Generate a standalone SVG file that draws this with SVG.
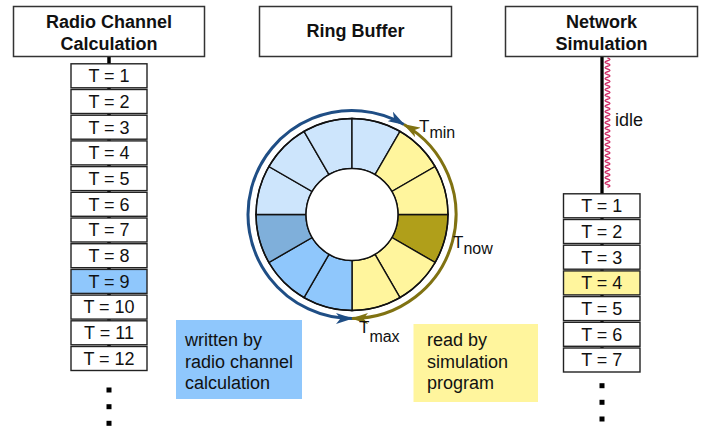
<svg xmlns="http://www.w3.org/2000/svg" width="709" height="431" viewBox="0 0 709 431">
<style>
text{font-family:"Liberation Sans",Arial,sans-serif;fill:#111;}
.hdr{fill:#fff;stroke:#333;stroke-width:1.5;}
.hdrt{font-size:18px;font-weight:bold;text-anchor:middle;}
.cell{fill:#fff;stroke:#222;stroke-width:1.4;}
.ct{font-size:18px;text-anchor:middle;}
.lbl{font-size:18px;}
.seg{stroke:#111;stroke-width:1.4;}
.lb{fill:#cde5fc;}.yl{fill:#fff59d;}.ol{fill:#b09f1a;}.mb{fill:#8fc7fc;}.sb{fill:#7fafda;}
.T{font-size:17px;}.sub{font-size:16px;}
.dot{fill:#000;}
</style>
<defs>
<marker id="ahB" markerUnits="userSpaceOnUse" markerWidth="17" markerHeight="11" refX="16" refY="5.5" orient="auto-start-reverse" viewBox="0 0 17 11">
<path d="M0,0 L17,5.5 L0,11 L4.5,5.5 Z" fill="#1f4e85"/>
</marker>
<marker id="ahO" markerUnits="userSpaceOnUse" markerWidth="17" markerHeight="11" refX="16" refY="5.5" orient="auto-start-reverse" viewBox="0 0 17 11">
<path d="M0,0 L17,5.5 L0,11 L4.5,5.5 Z" fill="#807212"/>
</marker>
</defs>

<g id="connectors">
<line x1="109" y1="57" x2="109" y2="371" stroke="#000" stroke-width="3.5"/>
<line x1="602" y1="56" x2="602" y2="372" stroke="#000" stroke-width="3.3"/>
<path d="M607.5,58 q5,1.375 0,2.75 t0,2.75 t0,2.75 t0,2.75 t0,2.75 t0,2.75 t0,2.75 t0,2.75 t0,2.75 t0,2.75 t0,2.75 t0,2.75 t0,2.75 t0,2.75 t0,2.75 t0,2.75 t0,2.75 t0,2.75 t0,2.75 t0,2.75 t0,2.75 t0,2.75 t0,2.75 t0,2.75 t0,2.75 t0,2.75 t0,2.75 t0,2.75 t0,2.75 t0,2.75 t0,2.75 t0,2.75 t0,2.75 t0,2.75 t0,2.75 t0,2.75 t0,2.75 t0,2.75 t0,2.75 t0,2.75 t0,2.75 t0,2.75 t0,2.75 t0,2.75 t0,2.75 t0,2.75 t0,2.75" fill="none" stroke="#d0306a" stroke-width="1.3"/>
<text class="lbl" x="615" y="126">idle</text>
<path d="M352,318.5 A104,104 0 1 1 404,124.43" fill="none" stroke="#1f4e85" stroke-width="3" marker-start="url(#ahB)" marker-end="url(#ahB)"/>
<path d="M404,124.43 A104,104 0 0 1 352,318.5" fill="none" stroke="#807212" stroke-width="3" marker-start="url(#ahO)" marker-end="url(#ahO)"/>
</g>

<g id="node-radio">
<rect class="hdr" x="13.5" y="6.5" width="191" height="50"/>
<text class="hdrt" x="109" y="28">Radio Channel</text>
<text class="hdrt" x="109" y="50">Calculation</text>
</g>

<g id="node-ring-title">
<rect class="hdr" x="259.5" y="6.5" width="192" height="50"/>
<text class="hdrt" x="355.5" y="37">Ring Buffer</text>
</g>

<g id="node-network">
<rect class="hdr" x="505.5" y="6.5" width="192" height="50"/>
<text class="hdrt" x="601.5" y="28">Network</text>
<text class="hdrt" x="601.5" y="50">Simulation</text>
</g>

<g id="radio-cells">
<g id="r1"><rect class="cell" x="71" y="63.8" width="76" height="24"/><text class="ct" x="109" y="82.1">T = 1</text></g>
<g id="r2"><rect class="cell" x="71" y="89.5" width="76" height="24"/><text class="ct" x="109" y="107.8">T = 2</text></g>
<g id="r3"><rect class="cell" x="71" y="115.2" width="76" height="24"/><text class="ct" x="109" y="133.5">T = 3</text></g>
<g id="r4"><rect class="cell" x="71" y="140.9" width="76" height="24"/><text class="ct" x="109" y="159.2">T = 4</text></g>
<g id="r5"><rect class="cell" x="71" y="166.6" width="76" height="24"/><text class="ct" x="109" y="184.9">T = 5</text></g>
<g id="r6"><rect class="cell" x="71" y="192.3" width="76" height="24"/><text class="ct" x="109" y="210.6">T = 6</text></g>
<g id="r7"><rect class="cell" x="71" y="218" width="76" height="24"/><text class="ct" x="109" y="236.3">T = 7</text></g>
<g id="r8"><rect class="cell" x="71" y="243.7" width="76" height="24"/><text class="ct" x="109" y="262">T = 8</text></g>
<g id="r9"><rect class="cell" x="71" y="269.4" width="76" height="24" style="fill:#8fc7fc"/><text class="ct" x="109" y="287.7">T = 9</text></g>
<g id="r10"><rect class="cell" x="71" y="295.1" width="76" height="24"/><text class="ct" x="109" y="313.4">T = 10</text></g>
<g id="r11"><rect class="cell" x="71" y="320.8" width="76" height="24"/><text class="ct" x="109" y="339.1">T = 11</text></g>
<g id="r12"><rect class="cell" x="71" y="346.5" width="76" height="24"/><text class="ct" x="109" y="364.8">T = 12</text></g>
<rect class="dot" x="106.5" y="387.5" width="5" height="5"/>
<rect class="dot" x="106.5" y="404.2" width="5" height="5"/>
<rect class="dot" x="106.5" y="420.8" width="5" height="5"/>
</g>

<g id="network-cells">
<g id="n1"><rect class="cell" x="563.5" y="193.8" width="76.5" height="24"/><text class="ct" x="601.75" y="212.1">T = 1</text></g>
<g id="n2"><rect class="cell" x="563.5" y="219.5" width="76.5" height="24"/><text class="ct" x="601.75" y="237.8">T = 2</text></g>
<g id="n3"><rect class="cell" x="563.5" y="245.2" width="76.5" height="24"/><text class="ct" x="601.75" y="263.5">T = 3</text></g>
<g id="n4"><rect class="cell" x="563.5" y="270.9" width="76.5" height="24" style="fill:#fff59d"/><text class="ct" x="601.75" y="289.2">T = 4</text></g>
<g id="n5"><rect class="cell" x="563.5" y="296.6" width="76.5" height="24"/><text class="ct" x="601.75" y="314.9">T = 5</text></g>
<g id="n6"><rect class="cell" x="563.5" y="322.3" width="76.5" height="24"/><text class="ct" x="601.75" y="340.6">T = 6</text></g>
<g id="n7"><rect class="cell" x="563.5" y="348" width="76.5" height="24"/><text class="ct" x="601.75" y="366.3">T = 7</text></g>
<rect class="dot" x="599.5" y="383.2" width="5" height="5"/>
<rect class="dot" x="599.5" y="399.8" width="5" height="5"/>
<rect class="dot" x="599.5" y="416.5" width="5" height="5"/>
</g>

<g id="node-ring">
<path class="seg ol" d="M448,214.5 A96,96 0 0 1 435.14,262.5 L391.84,237.5 A46,46 0 0 0 398,214.5 Z"/>
<path class="seg yl" d="M435.14,262.5 A96,96 0 0 1 400,297.64 L375,254.34 A46,46 0 0 0 391.84,237.5 Z"/>
<path class="seg yl" d="M400,297.64 A96,96 0 0 1 352,310.5 L352,260.5 A46,46 0 0 0 375,254.34 Z"/>
<path class="seg mb" d="M352,310.5 A96,96 0 0 1 304,297.64 L329,254.34 A46,46 0 0 0 352,260.5 Z"/>
<path class="seg mb" d="M304,297.64 A96,96 0 0 1 268.86,262.5 L312.16,237.5 A46,46 0 0 0 329,254.34 Z"/>
<path class="seg sb" d="M268.86,262.5 A96,96 0 0 1 256,214.5 L306,214.5 A46,46 0 0 0 312.16,237.5 Z"/>
<path class="seg lb" d="M256,214.5 A96,96 0 0 1 268.86,166.5 L312.16,191.5 A46,46 0 0 0 306,214.5 Z"/>
<path class="seg lb" d="M268.86,166.5 A96,96 0 0 1 304,131.36 L329,174.66 A46,46 0 0 0 312.16,191.5 Z"/>
<path class="seg lb" d="M304,131.36 A96,96 0 0 1 352,118.5 L352,168.5 A46,46 0 0 0 329,174.66 Z"/>
<path class="seg lb" d="M352,118.5 A96,96 0 0 1 400,131.36 L375,174.66 A46,46 0 0 0 352,168.5 Z"/>
<path class="seg yl" d="M400,131.36 A96,96 0 0 1 435.14,166.5 L391.84,191.5 A46,46 0 0 0 375,174.66 Z"/>
<path class="seg yl" d="M435.14,166.5 A96,96 0 0 1 448,214.5 L398,214.5 A46,46 0 0 0 391.84,191.5 Z"/>
<circle cx="352" cy="214.5" r="96" fill="none" stroke="#111" stroke-width="1.5"/>
<circle cx="352" cy="214.5" r="46" fill="#fff" stroke="#111" stroke-width="1.5"/>
</g>

<g id="ring-labels">
<text class="T" x="419" y="132">T<tspan class="sub" dy="5.5">min</tspan></text>
<text class="T" x="453" y="248">T<tspan class="sub" dy="6">now</tspan></text>
<text class="T" x="359" y="333">T<tspan class="sub" dy="8.5">max</tspan></text>
</g>

<g id="note-written">
<rect x="176" y="320" width="126" height="79" fill="#8fc7fc"/>
<text class="lbl" x="185" y="346">written by</text>
<text class="lbl" x="185" y="367.5">radio channel</text>
<text class="lbl" x="185" y="389">calculation</text>
</g>

<g id="note-read">
<rect x="413.5" y="324" width="124.5" height="78" fill="#fff59d"/>
<text class="lbl" x="427" y="346">read by</text>
<text class="lbl" x="427" y="367.5">simulation</text>
<text class="lbl" x="427" y="389">program</text>
</g>
</svg>
